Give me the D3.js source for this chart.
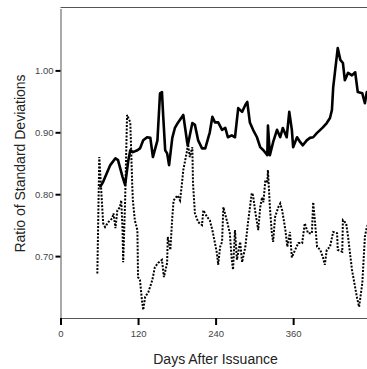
<!DOCTYPE html>
<meta charset="utf-8">
<style>
body { margin: 0; background: #fff; }
* { font-family: "Liberation Sans", Arial, sans-serif; }
.line { fill: none; stroke: #000; }
</style>
<body>
<script src="https://d3js.org/d3.v7.min.js"></script>
<script>

// days after issuance / ratio, solid series
var solidDays = [61,66,77,85,89,96,100,105,108,112,119,123,128,134,139,143,150,154,157,159,162,165,168,173,177,182,190,196,197,204,208,213,219,224,231,235,239,244,250,255,259,265,270,275,281,286,289,293,298,304,309,314,320,321,324,329,335,340,344,350,354,358,360,366,371,375,381,386,391,397,402,406,412,417,420,422,425,429,433,437,440,445,451,456,460,467,471,474,478];
var solidVals = [0.811,0.820,0.847,0.858,0.855,0.828,0.815,0.855,0.871,0.868,0.871,0.874,0.887,0.892,0.891,0.860,0.887,0.963,0.965,0.925,0.871,0.866,0.847,0.891,0.907,0.916,0.928,0.884,0.879,0.915,0.912,0.887,0.874,0.874,0.900,0.925,0.916,0.916,0.904,0.907,0.892,0.895,0.892,0.939,0.933,0.944,0.949,0.916,0.904,0.892,0.876,0.871,0.863,0.911,0.863,0.884,0.904,0.892,0.907,0.892,0.933,0.904,0.876,0.892,0.884,0.879,0.887,0.891,0.892,0.899,0.904,0.908,0.915,0.923,0.936,0.973,1.000,1.036,1.017,1.012,0.984,0.996,0.992,0.997,0.965,0.963,0.947,0.965,0.950];

// dotted series
var dotDays = [57,60,63,66,69,74,80,82,85,88,92,94,96,97,100,103,108,111,112,115,119,120,123,126,128,131,136,142,146,151,157,160,165,166,170,173,175,181,185,188,190,196,197,200,204,205,208,213,219,221,227,231,235,239,242,244,247,250,252,258,262,265,267,270,273,278,281,286,290,296,298,301,306,309,312,314,317,320,321,324,327,329,332,337,340,343,348,351,355,358,363,368,374,378,383,389,391,394,397,402,406,409,412,417,422,428,429,436,437,442,445,451,456,459,462,467,471,474,478];
var dotVals = [0.672,0.860,0.807,0.753,0.747,0.755,0.761,0.769,0.745,0.774,0.779,0.790,0.742,0.690,0.790,0.928,0.916,0.815,0.790,0.758,0.742,0.666,0.661,0.629,0.613,0.634,0.642,0.661,0.682,0.689,0.694,0.666,0.689,0.731,0.710,0.763,0.790,0.798,0.790,0.818,0.839,0.871,0.884,0.860,0.876,0.818,0.769,0.755,0.750,0.774,0.763,0.758,0.742,0.721,0.705,0.686,0.715,0.723,0.779,0.755,0.737,0.694,0.678,0.742,0.694,0.723,0.690,0.715,0.753,0.802,0.798,0.774,0.742,0.779,0.795,0.787,0.823,0.818,0.839,0.779,0.737,0.723,0.763,0.779,0.785,0.774,0.742,0.715,0.739,0.698,0.710,0.721,0.721,0.753,0.737,0.737,0.787,0.753,0.715,0.710,0.698,0.686,0.710,0.715,0.739,0.737,0.710,0.707,0.758,0.753,0.731,0.678,0.649,0.632,0.618,0.656,0.731,0.747,0.755];

var xTicks = [0, 120, 240, 360];
var yTicks = [0.70, 0.80, 0.90, 1.00];

var width = 367, height = 369;

var x = d3.scaleLinear().domain([0, 480]).range([60.5, 370.7]);
var y = d3.scaleLinear().domain([0.6, 1.1]).range([318, 8.5]);

var svg = d3.select("body").append("svg")
    .attr("width", width)
    .attr("height", height);

var line = d3.line()
    .x(function(d) { return x(d[0]); })
    .y(function(d) { return y(d[1]); });

// top frame line
svg.append("line")
    .attr("x1", x(0)).attr("x2", x(480))
    .attr("y1", 7.5).attr("y2", 7.5)
    .attr("stroke", "#555").attr("stroke-width", 1);

svg.append("path")
    .datum(d3.zip(dotDays, dotVals))
    .attr("class", "line")
    .attr("d", line)
    .attr("stroke-width", 2)
    .attr("stroke-dasharray", "2,1.5");

svg.append("path")
    .datum(d3.zip(solidDays, solidVals))
    .attr("class", "line")
    .attr("d", line)
    .attr("stroke-width", 2.6)
    .attr("stroke-linejoin", "round");

// axes
var yAxis = svg.append("g")
    .attr("transform", "translate(" + x(0) + ",0)")
    .call(d3.axisLeft(y).tickValues(yTicks).tickFormat(d3.format(".2f"))
      .tickSize(5).tickSizeOuter(0).tickPadding(2));

var xAxis = svg.append("g")
    .attr("transform", "translate(0," + y(0.6) + ")")
    .call(d3.axisBottom(x).tickValues(xTicks).tickFormat(d3.format("d"))
      .tickSize(7).tickSizeOuter(0).tickPadding(5));

[xAxis, yAxis].forEach(function(g) {
  g.select(".domain").attr("stroke", "#555").attr("stroke-width", 1);
  g.selectAll(".tick line").attr("stroke", "#000").attr("stroke-width", 2);
  g.selectAll(".tick text").attr("fill", "#444")
    .style("font-size", "9.5px");
});

svg.append("text")
    .attr("text-anchor", "middle")
    .attr("transform", "translate(25,163.5)rotate(-90)")
    .attr("fill", "#222")
    .style("font-size", "14px")
    .text("Ratio of Standard Deviations");

svg.append("text")
    .attr("text-anchor", "middle")
    .attr("x", 215.5)
    .attr("y", 364)
    .attr("fill", "#222")
    .style("font-size", "14px")
    .text("Days After Issuance");

</script>
</body>
